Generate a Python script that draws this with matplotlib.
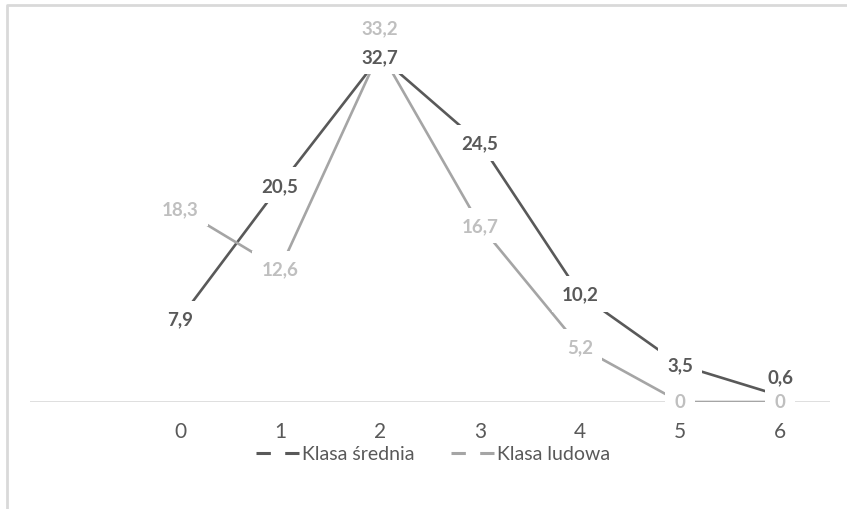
import matplotlib
matplotlib.use("Agg")
import matplotlib.pyplot as plt
from matplotlib.lines import Line2D

plt.rcParams['font.family'] = ['Lato', 'DejaVu Sans']

categories = ['0', '1', '2', '3', '4', '5', '6']
klasa_srednia = [7.9, 20.5, 32.7, 24.5, 10.2, 3.5, 0.6]
klasa_ludowa = [18.3, 12.6, 33.2, 16.7, 5.2, 0, 0]
series_names = ['Klasa średnia', 'Klasa ludowa']

W, H = 847, 510
fig = plt.figure(figsize=(W / 100, H / 100), dpi=100)

# axes placement (pixels)
x_left_px, x_right_px = 30, 830
y_zero_px, y_top_px = 403, 33
ax = fig.add_axes([x_left_px / W, (H - y_zero_px) / H,
                   (x_right_px - x_left_px) / W, (y_zero_px - y_top_px) / H])

xs = list(range(len(categories)))
dark = '#595959'
light = '#A5A5A5'
dark_lbl = '#595959'
light_lbl = '#BFBFBF'

ax.axhline(0, color='#D9D9D9', lw=1.2, zorder=1)
ax.plot(xs, klasa_srednia, color=dark, lw=1.9, zorder=2, solid_capstyle='butt')
ax.plot(xs, klasa_ludowa, color=light, lw=1.9, zorder=2, solid_capstyle='butt')

def fmt(v):
    return ('%g' % v).replace('.', ',')

offs_dark = {6: 19}
offs_light = {2: 23}
for i, v in enumerate(klasa_srednia):
    ax.annotate(fmt(v), (xs[i], v), xytext=(0, offs_dark.get(i, 0)), textcoords='offset pixels',
                ha='center', va='center', fontsize=13.5, fontweight='bold', color=dark_lbl,
                bbox=dict(boxstyle='square,pad=0.5' if i != 6 else 'square,pad=0.2',
                          fc='white', ec='none'), zorder=6 if i == 6 else 4)
for i, v in enumerate(klasa_ludowa):
    ax.annotate(fmt(v), (xs[i], v), xytext=(0, offs_light.get(i, 0)), textcoords='offset pixels',
                ha='center', va='center', fontsize=13.5, fontweight='bold', color=light_lbl,
                bbox=dict(boxstyle='square,pad=0.5', fc='white', ec='none'),
                zorder=3 if i == 2 else 5)

ax.set_xlim(-1.5, 6.5)
ax.set_ylim(0, 35)
ax.set_xticks(xs)
ax.set_xticklabels(categories, fontsize=15, color='#595959')
ax.tick_params(axis='x', length=0, pad=14)
ax.set_yticks([])
for s in ax.spines.values():
    s.set_visible(False)
ax.patch.set_alpha(0)

handles = [Line2D([], [], color=dark, lw=2.2, dashes=(4.7, 4.7)),
           Line2D([], [], color=light, lw=2.2, dashes=(4.7, 4.7))]
fig.legend(handles, series_names, loc='center', bbox_to_anchor=(433 / W, (H - 455) / H),
           ncol=2, frameon=False, fontsize=14, handlelength=2.2, handletextpad=0.15,
           columnspacing=1.9, labelcolor='#595959')

# chart border (top and left)
border = Line2D([7 / W, 7 / W, 1.0], [0.0, 1 - 6 / H, 1 - 6 / H], transform=fig.transFigure,
                color='#D9D9D9', lw=2.0)
fig.add_artist(border)

fig.savefig('out.png', dpi=100)
